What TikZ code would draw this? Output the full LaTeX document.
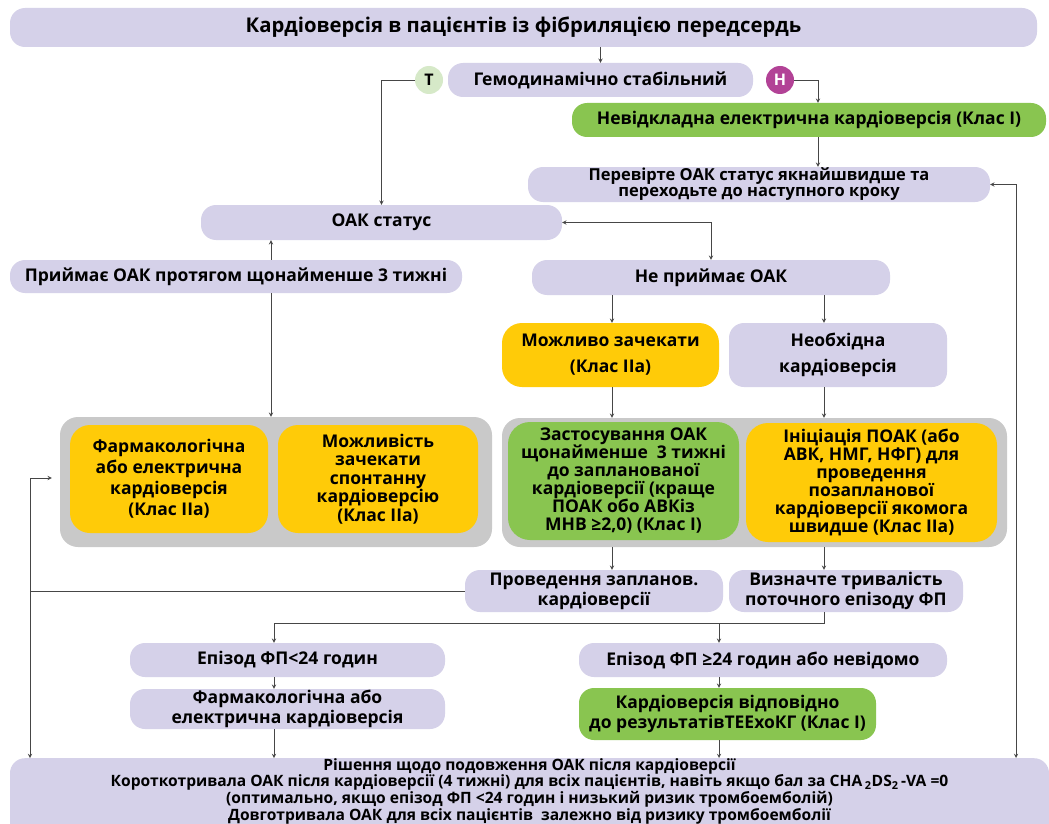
\documentclass[tikz,border=0pt]{standalone}
\usepackage{fontspec}
\setmainfont{Open Sans}
\definecolor{lav}{RGB}{213,209,233}
\definecolor{grn}{RGB}{137,197,80}
\definecolor{ylw}{RGB}{255,203,8}
\definecolor{gry}{RGB}{201,201,201}
\definecolor{tgrn}{RGB}{214,233,200}
\definecolor{hmag}{RGB}{178,66,150}
\definecolor{ln}{RGB}{70,70,70}
\tikzset{>=stealth,
  blk/.style={rounded corners=15pt, fill=lav, align=center, inner sep=0pt,
    font=\bfseries\fontsize{17.5}{20}\selectfont},
  grnbox/.style={blk, fill=grn},
  ylwbox/.style={blk, fill=ylw, rounded corners=20pt},
  pnl/.style={rounded corners=18pt, fill=gry, inner sep=0pt},
  badge/.style={circle, minimum size=28pt, inner sep=0pt, font=\bfseries\fontsize{16}{17}\selectfont},
  con/.style={draw=ln, line width=0.9pt}}
\begin{document}
\begin{tikzpicture}[x=1pt,y=-1pt]
\useasboundingbox[fill=white] (0,0) rectangle (1049,824);
\coordinate (lline) at (30,0);
\coordinate (rline) at (1016,0);
\coordinate (c1) at (612,0);
\coordinate (c2) at (824,0);
\coordinate (c3) at (274,0);
\coordinate (c4) at (719,0);
\coordinate (c5) at (271,0);
\coordinate (c6) at (818,0);
\coordinate (split) at (0,623);

\node[blk, minimum width=1027, minimum height=39, font=\bfseries\fontsize{20.3}{22}\selectfont] (title) at (523.5,27.5) {Кардіоверсія в пацієнтів із фібриляцією передсердь};
\node[blk, minimum width=305, minimum height=34] (gemo) at (600.5,80) {Гемодинамічно стабільний};
\node[badge, fill=tgrn] (yes) at (429,80) {Т};
\node[badge, fill=hmag, text=white] (no) at (780,80) {Н};
\node[grnbox, minimum width=474, minimum height=34] (urgent) at (809,120) {Невідкладна електрична кардіоверсія (Клас І)};
\node[blk, minimum width=462, minimum height=35, font=\bfseries\fontsize{16.5}{16}\selectfont] (check) at (759,184.5) {Перевірте ОАК статус якнайшвидше та\\переходьте до наступного кроку};
\node[blk, minimum width=361, minimum height=35] (oak) at (381.5,222.5) {ОАК статус};
\node[blk, minimum width=452, minimum height=33] (takes) at (236,276.5) {Приймає ОАК протягом щонайменше 3 тижні};
\node[blk, minimum width=358, minimum height=35] (nottakes) at (711,277.5) {Не приймає ОАК};
\node[ylwbox, minimum width=217, minimum height=64, font=\bfseries\fontsize{17.5}{26}\selectfont] (wait) at (610.5,355) {Можливо зачекати\\(Клас ІІа)};
\node[blk, minimum width=218, minimum height=64, font=\bfseries\fontsize{17.5}{26}\selectfont] (need) at (838,355) {Необхідна\\кардіоверсія};

\node[pnl, minimum width=432, minimum height=130] (panelL) at (276,482) {};
\node[ylwbox, minimum width=198, minimum height=108, font=\bfseries\fontsize{17.5}{21}\selectfont] (pharm) at (169,479) {Фармакологічна\\або електрична\\кардіоверсія\\(Клас ІІа)};
\node[ylwbox, minimum width=200, minimum height=108, font=\bfseries\fontsize{17.5}{18.5}\selectfont] (spont) at (378,479) {Можливість\\зачекати\\спонтанну\\кардіоверсію\\(Клас ІІа)};
\node[pnl, minimum width=505, minimum height=129] (panelR) at (754.5,482.5) {};
\node[grnbox, rounded corners=22pt, minimum width=231, minimum height=118, font=\bfseries\fontsize{17.5}{18}\selectfont] (threew) at (623.5,481) {Застосування ОАК\\щонайменше \ 3 тижні\\до запланованої\\кардіоверсії (краще\\ПОАК обо АВКіз\\МНВ ≥2,0) (Клас І)};
\node[ylwbox, rounded corners=22pt, minimum width=251, minimum height=119, font=\bfseries\fontsize{17.5}{18}\selectfont] (init) at (871.5,482.5) {Ініціація ПОАК (або\\АВК, НМГ, НФГ) для\\проведення\\позапланової\\кардіоверсії якомога\\швидше (Клас ІІа)};

\node[blk, minimum width=258, minimum height=42, font=\bfseries\fontsize{17.5}{20}\selectfont] (planned) at (594,591) {Проведення запланов.\\кардіоверсії};
\node[blk, minimum width=234, minimum height=42, font=\bfseries\fontsize{17.5}{20}\selectfont] (duration) at (846,591) {Визначте тривалість\\поточного епізоду ФП};
\node[blk, minimum width=315, minimum height=34] (lt) at (287.5,660) {Епізод ФП<24 годин};
\node[blk, minimum width=368, minimum height=34] (ge) at (763,660) {Епізод ФП ≥24 годин або невідомо};
\node[blk, minimum width=315, minimum height=40, font=\bfseries\fontsize{17.5}{20}\selectfont] (pharmb) at (287.5,709) {Фармакологічна або\\електрична кардіоверсія};
\node[grnbox, minimum width=297, minimum height=52, font=\bfseries\fontsize{17.5}{20}\selectfont] (tee) at (727.5,714) {Кардіоверсія відповідно\\до результатівТЕЕхоКГ (Клас І)};
\node[blk, anchor=north, minimum width=1039, inner ysep=0pt, text depth=30pt, font=\bfseries\fontsize{15.6}{14.4}\selectfont] (final) at (529.5,758) {Рішення щодо подовження ОАК після кардіоверсії\\Короткотривала ОАК після кардіоверсії (4 тижні) для всіх пацієнтів, навіть якщо бал за CHA\,\textsubscript{2}DS\textsubscript{2}\,-VA =0\\(оптимально, якщо епізод ФП <24 годин і низький ризик тромбоемболій)\\Довготривала ОАК для всіх пацієнтів \ залежно від ризику тромбоемболії};

\draw[con,->] (title.south -| gemo.north) -- (gemo.north);
\draw[con,->] (yes.west) -| (oak.north);
\draw[con,->] (no.east) -| (urgent.north -| c6);
\draw[con,->] (urgent.south -| c6) -- (check.north -| c6);
\draw[con,<->] (check.east) -| (final.north -| rline);
\draw[con,<->] (oak.east) -| (nottakes.north);
\draw[con,->] (takes.north -| c5) -- (oak.south -| c5);
\draw[con,->] (takes.south -| c5) -- (panelL.north -| c5);
\draw[con,->] (nottakes.south -| c1) -- (wait.north -| c1);
\draw[con,->] (nottakes.south -| c2) -- (need.north -| c2);
\draw[con,->] (wait.south -| c1) -- (panelR.north -| c1);
\draw[con,->] (need.south -| c2) -- (panelR.north -| c2);
\draw[con,->] (panelR.south -| c1) -- (planned.north -| c1);
\draw[con,->] (panelR.south -| c2) -- (duration.north -| c2);
\draw[con,<->] ([xshift=-8pt,yshift=4pt]panelL.west) -| (final.north -| lline);
\draw[con] (planned.west) -- (planned.west -| lline);
\draw[con,->] (duration.south -| c2) |- (split -| c3) -- (lt.north -| c3);
\draw[con,->] (split -| c4) -- (ge.north -| c4);
\draw[con,->] (lt.south -| c3) -- (pharmb.north -| c3);
\draw[con,->] (ge.south -| c4) -- (tee.north -| c4);
\draw[con,->] (pharmb.south -| c3) -- (final.north -| c3);
\draw[con,->] (tee.south -| c4) -- (final.north -| c4);
\end{tikzpicture}
\end{document}
